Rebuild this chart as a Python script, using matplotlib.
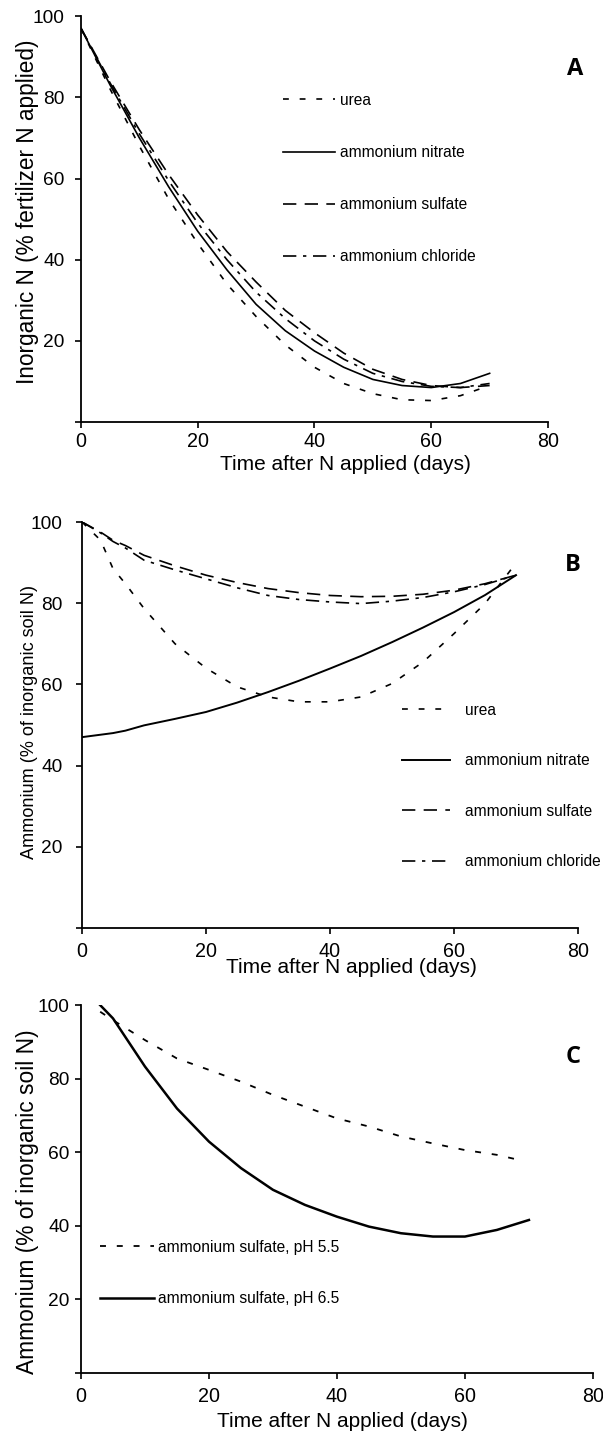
import numpy as np
import matplotlib.pyplot as plt

plt.rcParams['font.family'] = ['Liberation Sans', 'DejaVu Sans']

# panel A: inorganic N (% fertilizer N applied)
days_a = [0, 5, 10, 15, 20, 25, 30, 35, 40, 45, 50, 55, 60, 65, 70]
urea_a = [97, 82, 68, 55, 44, 34, 26, 19, 13.5, 9.5, 7, 5.5, 5.3, 6.5, 9]
nitrate_a = [97, 83, 70, 58, 47, 37.5, 29, 22.5, 17.5, 13.5, 10.5, 9, 8.5, 9.5, 12]
sulfate_a = [97, 84, 72, 61, 51, 42, 34.5, 27.5, 22, 17, 13, 10.5, 9, 8.5, 9]
chloride_a = [97, 83.5, 71, 59.5, 49, 40, 32, 25.5, 20, 15.5, 12, 10, 8.8, 8.5, 9.5]

# panel B: ammonium (% of inorganic soil N)
days_b = [0, 3, 5, 7, 10, 15, 20, 25, 30, 35, 40, 45, 50, 55, 60, 65, 70]
urea_b = [100, 95.5, 88.5, 84.8, 78.7, 70, 64, 59.4, 56.9, 55.7, 55.7, 56.9, 60.2, 65.5, 72.5, 79.9, 89.9]
nitrate_b = [47, 47.6, 48, 48.6, 49.9, 51.5, 53.2, 55.5, 58.1, 60.9, 63.9, 67, 70.4, 74, 77.8, 82, 86.9]
sulfate_b = [100, 97.5, 95.5, 94.2, 91.8, 89.2, 86.9, 85.1, 83.6, 82.6, 81.9, 81.6, 81.7, 82.2, 83.2, 84.8, 86.9]
chloride_b = [100, 97.3, 95.2, 93.6, 90.6, 88.2, 86, 83.8, 81.9, 80.9, 80.3, 79.9, 80.5, 81.4, 82.8, 84.6, 86.9]

# panel C: ammonium sulfate at two soil pH values
days_c55 = [3, 5, 10, 15, 20, 25, 30, 35, 40, 45, 50, 55, 60, 65, 68]
ph55_c = [98.2, 95.9, 90.5, 85.5, 82.4, 79.2, 75.6, 72.4, 69.2, 67, 64.3, 62.4, 60.6, 59.3, 58.1]
days_c65 = [3, 5, 10, 15, 20, 25, 30, 35, 40, 45, 50, 55, 60, 65, 70]
ph65_c = [100, 96.4, 83.3, 71.9, 62.9, 55.7, 49.8, 45.7, 42.5, 39.8, 38, 37.1, 37.1, 38.9, 41.6]

labels_four = ["urea", "ammonium nitrate", "ammonium sulfate", "ammonium chloride"]
labels_two = ["ammonium sulfate, pH 5.5", "ammonium sulfate, pH 6.5"]
xticks = [0, 20, 40, 60, 80]
yticks = [0, 20, 40, 60, 80, 100]
ytick_labels = ["", "20", "40", "60", "80", "100"]

ls_urea = (0, (3.5, 6.5))
ls_nit = "-"
ls_sul = (0, (8, 5))
ls_chl = (0, (8, 4, 2, 4))
LEG = 11.2


def style(ax, xpad, ypad):
    ax.set_xlim(0, 80)
    ax.set_ylim(0, 100)
    ax.set_xticks(xticks)
    ax.set_yticks(yticks)
    ax.set_yticklabels(ytick_labels)
    for s in ["top", "right"]:
        ax.spines[s].set_visible(False)
    for s in ["left", "bottom"]:
        ax.spines[s].set_linewidth(1.3)
    ax.tick_params(axis="x", labelsize=14.2, length=4, width=1.2, pad=xpad)
    ax.tick_params(axis="y", labelsize=13.8, length=4, width=1.2, pad=ypad)


fig = plt.figure(figsize=(6.03, 14.4), dpi=100)

# ---- A
axA = fig.add_axes([0.1343, 0.7069, 0.7745, 0.2819])
axA.plot(days_a, urea_a, color="black", lw=1.2, ls=ls_urea, label=labels_four[0])
axA.plot(days_a, nitrate_a, color="black", lw=1.2, ls=ls_nit, label=labels_four[1])
axA.plot(days_a, sulfate_a, color="black", lw=1.2, ls=ls_sul, label=labels_four[2])
axA.plot(days_a, chloride_a, color="black", lw=1.2, ls=ls_chl, label=labels_four[3])
style(axA, 3.5, 8)
axA.set_xlabel("Time after N applied (days)", fontsize=15)
axA.xaxis.set_label_coords(0.567, -0.081)
axA.set_ylabel("Inorganic N (% fertilizer N applied)", fontsize=16.3)
axA.yaxis.set_label_coords(-0.09, 0.517)
axA.legend(loc="upper left", bbox_to_anchor=(0.4325, 0.811), frameon=False,
           fontsize=LEG, handlelength=3.33, handletextpad=0.32, labelspacing=2.39,
           borderpad=0, borderaxespad=0)
fig.text(0.9536, 0.952, "A", fontsize=17, fontweight="bold", family="Open Sans",
         ha="center", va="center")

# ---- B
axB = fig.add_axes([0.136, 0.3556, 0.8226, 0.2819])
axB.plot(days_b, urea_b, color="black", lw=1.2, ls=ls_urea, label=labels_four[0])
axB.plot(days_b, nitrate_b, color="black", lw=1.4, ls=ls_nit, label=labels_four[1])
axB.plot(days_b, sulfate_b, color="black", lw=1.2, ls=ls_sul, label=labels_four[2])
axB.plot(days_b, chloride_b, color="black", lw=1.2, ls=ls_chl, label=labels_four[3])
style(axB, 5.8, 10)
axB.set_xlabel("Time after N applied (days)", fontsize=15)
axB.xaxis.set_label_coords(0.544, -0.074)
axB.set_ylabel("Ammonium (% of inorganic soil N)", fontsize=13.1)
axB.yaxis.set_label_coords(-0.089, 0.507)
axB.legend(loc="upper left", bbox_to_anchor=(0.645, 0.555), frameon=False,
           fontsize=LEG, handlelength=3.08, handletextpad=0.96, labelspacing=2.28,
           borderpad=0, borderaxespad=0)
fig.text(0.950, 0.6076, "B", fontsize=17, fontweight="bold", family="Open Sans",
         ha="center", va="center")

# ---- C
axC = fig.add_axes([0.1343, 0.0465, 0.849, 0.2555])
axC.plot(days_c55, ph55_c, color="black", lw=1.3, ls=(0, (3.3, 6)), label=labels_two[0])
axC.plot(days_c65, ph65_c, color="black", lw=1.8, ls="-", label=labels_two[1])
style(axC, 5.8, 4)
axC.set_xlabel("Time after N applied (days)", fontsize=15)
axC.xaxis.set_label_coords(0.51, -0.106)
axC.set_ylabel("Ammonium (% of inorganic soil N)", fontsize=16.4)
axC.yaxis.set_label_coords(-0.082, 0.465)
axC.legend(loc="upper left", bbox_to_anchor=(0.037, 0.362), frameon=False,
           fontsize=LEG, handlelength=3.46, handletextpad=0.26, labelspacing=2.35,
           borderpad=0, borderaxespad=0)
fig.text(0.950, 0.266, "C", fontsize=17, fontweight="bold", family="Open Sans",
         ha="center", va="center")

fig.savefig("out.png", dpi=100, facecolor="white")
